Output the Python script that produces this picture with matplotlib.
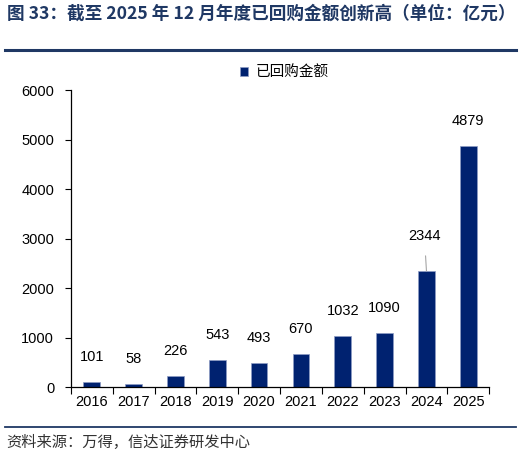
import numpy as np
import matplotlib
matplotlib.use('Agg')
import matplotlib.pyplot as plt

plt.rcParams['font.family'] = ['Liberation Sans', 'Noto Sans CJK SC', 'DejaVu Sans']

years = ['2016', '2017', '2018', '2019', '2020', '2021', '2022', '2023', '2024', '2025']
buyback = [101, 58, 226, 543, 493, 670, 1032, 1090, 2344, 4879]
y_ticks = [0, 1000, 2000, 3000, 4000, 5000, 6000]

title = '图 33：截至 2025 年 12 月年度已回购金额创新高（单位：亿元）'
source = '资料来源：万得，信达证券研发中心'
series_name = '已回购金额'

navy = '#1F3864'
bar_color = '#002270'

fig = plt.figure(figsize=(5.21, 4.57), dpi=100)
ax = fig.add_axes([0.136, 0.153, 0.803, 0.650])

x = np.arange(len(years))
ax.bar(x, buyback, width=0.4, color=bar_color, edgecolor='#8E9CC4',
       linewidth=0.5, label=series_name, zorder=2)

for xi, v in zip(x, buyback):
    if v == 2344:
        ax.annotate(str(v), xy=(xi, v), xytext=(xi - 0.05, v + 700),
                    ha='center', va='center', fontsize=10.5,
                    arrowprops=dict(arrowstyle='-', color='#A6A6A6', lw=0.8,
                                    shrinkA=7, shrinkB=0))
    else:
        ax.annotate(str(v), xy=(xi, v), xytext=(0, 18), textcoords='offset points',
                    ha='center', va='center', fontsize=10.5)

ax.set_xlim(-0.5, len(years) - 0.5)
ax.set_ylim(0, 6000)
ax.set_yticks(y_ticks)
ax.set_yticklabels([str(t) for t in y_ticks], fontsize=10.5)

ax.set_xticks(np.arange(len(years) + 1) - 0.5)
ax.set_xticklabels([])
ax.set_xticks(x, minor=True)
ax.set_xticklabels(years, minor=True, fontsize=10.5)
ax.tick_params(axis='x', which='major', length=5, direction='out', width=0.8)
ax.tick_params(axis='x', which='minor', length=0, pad=6)
ax.tick_params(axis='y', length=4, direction='out', width=0.8, pad=8)

for s in ['top', 'right']:
    ax.spines[s].set_visible(False)
for s in ['left', 'bottom']:
    ax.spines[s].set_linewidth(0.9)

leg = ax.legend(loc='lower center', bbox_to_anchor=(0.51, 1.0), frameon=False,
                fontsize=10.5, handlelength=0.6, handleheight=0.6, handletextpad=0.5,
                borderaxespad=0.3)

fig.text(0.013, 0.969, title, fontsize=12.7, fontweight='bold', color=navy,
         ha='left', va='center', family=['Noto Sans CJK SC', 'DejaVu Sans'])
fig.add_artist(plt.Line2D([0.01, 0.99], [0.891, 0.891], color=navy, lw=2.2))
fig.add_artist(plt.Line2D([0.01, 0.99], [0.066, 0.066], color=navy, lw=1.3))
fig.text(0.013, 0.032, source, fontsize=11, color='#333333', ha='left', va='center',
         family=['Noto Sans CJK SC', 'DejaVu Sans'])

fig.savefig('out.png', dpi=100)
